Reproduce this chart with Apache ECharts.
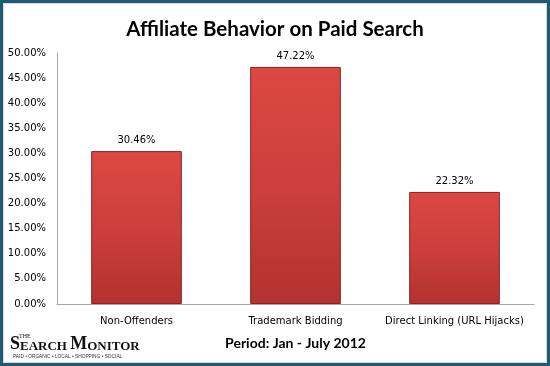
<!DOCTYPE html>
<html><head><meta charset="utf-8">
<script src="https://cdn.jsdelivr.net/npm/echarts@6/dist/echarts.min.js"></script>
<style>html,body{margin:0;padding:0;background:#fff}#c{width:550px;height:366px}</style>
</head><body><div id="c"></div>
<script>
const categories = ['Non-Offenders', 'Trademark Bidding', 'Direct Linking (URL Hijacks)'];
const values = [30.46, 47.22, 22.32];
const yTicks = [0, 5, 10, 15, 20, 25, 30, 35, 40, 45, 50];

const chart = echarts.init(document.getElementById('c'));
chart.setOption({
  animation: false,
  backgroundColor: '#fff',
  title: {
    text: 'Affiliate Behavior on Paid Search',
    left: 'center', top: 14,
    textStyle: { fontFamily: 'Lato', fontWeight: 'bold', fontSize: 20.5, color: '#000' }
  },
  grid: { left: 57, right: 16, top: 53, bottom: 62 },
  xAxis: {
    type: 'category', data: categories,
    name: 'Period: Jan - July 2012', nameLocation: 'middle', nameGap: 32,
    nameTextStyle: { fontFamily: 'Lato', fontWeight: 'bold', fontSize: 14, color: '#000' },
    axisLine: { lineStyle: { color: '#a6a6a6', width: 1 } },
    axisTick: { show: false },
    axisLabel: { fontFamily: 'DejaVu Sans', fontSize: 10, color: '#000', margin: 12, interval: 0 }
  },
  yAxis: {
    type: 'value', min: yTicks[0], max: yTicks[yTicks.length - 1], interval: 5,
    axisLine: { show: true, lineStyle: { color: '#a6a6a6', width: 1 } },
    axisTick: { show: false },
    splitLine: { show: false },
    axisLabel: { fontFamily: 'DejaVu Sans', fontSize: 10, color: '#000', margin: 11,
      formatter: v => v.toFixed(2) + '%' }
  },
  series: [{
    type: 'bar', data: values, barWidth: '57%',
    itemStyle: {
      color: new echarts.graphic.LinearGradient(0, 0, 0, 1, [
        { offset: 0, color: '#dc4844' },
        { offset: 0.5, color: '#cc3f3c' },
        { offset: 1, color: '#b3322f' }
      ]),
      borderColor: '#8e2220', borderWidth: 1
    },
    label: { show: true, position: 'top', distance: 6, fontFamily: 'DejaVu Sans', fontSize: 10, color: '#000',
      formatter: p => p.value.toFixed(2) + '%' }
  }],
  graphic: [
    { type: 'rect', shape: { x: 1.5, y: 1.5, width: 547, height: 363 }, silent: true,
      style: { fill: null, stroke: '#1d5b73', lineWidth: 3 }, z: 100 },
    { type: 'rect', shape: { x: 3.5, y: 3.5, width: 543, height: 359 }, silent: true,
      style: { fill: null, stroke: '#d8d8d8', lineWidth: 1 }, z: 100 },
    { type: 'text', left: 10, top: 335, z: 100,
      style: {
        text: '{b|S}{s|EARCH }{b|M}{s|ONITOR}',
        rich: {
          b: { fontFamily: 'Liberation Serif', fontWeight: 'bold', fontSize: 18, fill: '#111', verticalAlign: 'bottom' },
          s: { fontFamily: 'Liberation Serif', fontWeight: 'bold', fontSize: 13, fill: '#111', verticalAlign: 'bottom' }
        }
      } },
    { type: 'text', left: 19, top: 333, z: 100,
      style: { text: 'THE', fontFamily: 'Liberation Serif', fontSize: 6, fill: '#111' } },
    { type: 'text', left: 13, top: 354, z: 100,
      style: { text: 'PAID • ORGANIC • LOCAL • SHOPPING • SOCIAL', fontFamily: 'Liberation Sans', fontSize: 4.8, fill: '#333' } }
  ]
});
</script></body></html>
